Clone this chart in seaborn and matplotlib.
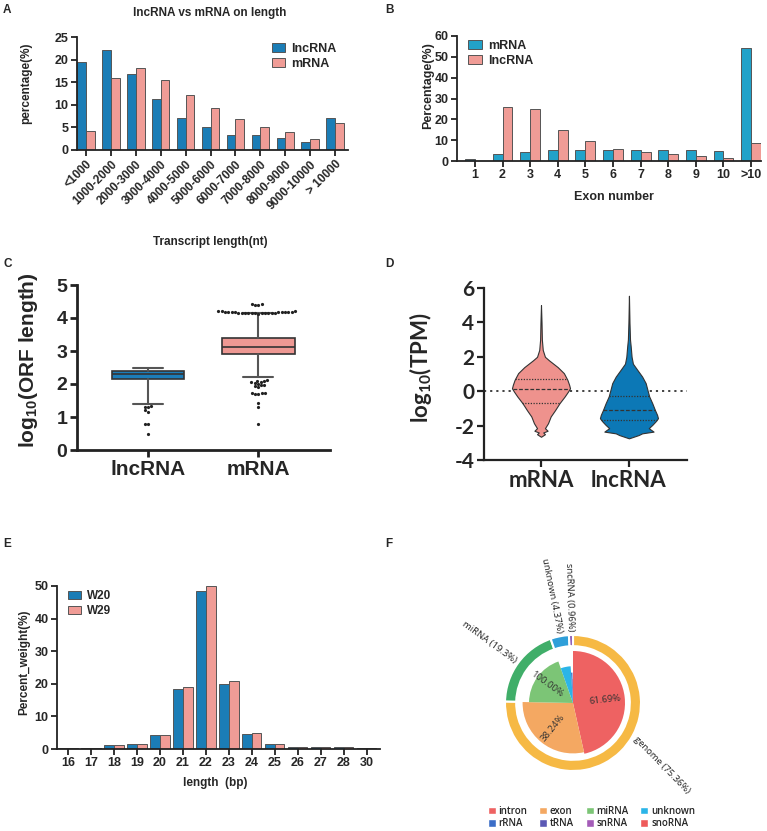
import numpy as np
import pandas as pd
import matplotlib.pyplot as plt
import seaborn as sns
from matplotlib.patches import Patch, Wedge

# A: transcript length distribution (%)
len_bins = ['<1000', '1000-2000', '2000-3000', '3000-4000', '4000-5000', '5000-6000',
            '6000-7000', '7000-8000', '8000-9000', '9000-10000', '> 10000']
len_lncrna = [19.5, 22.1, 16.9, 11.2, 7.0, 5.1, 3.4, 3.3, 2.6, 1.8, 7.0]
len_mrna = [4.2, 15.9, 18.2, 15.4, 12.1, 9.4, 6.8, 5.0, 3.9, 2.4, 6.0]

# B: exon number distribution (%)
exon_bins = ['1', '2', '3', '4', '5', '6', '7', '8', '9', '10', '>10']
exon_mrna = [1.0, 3.5, 4.5, 5.5, 5.5, 5.5, 5.5, 5.5, 5.5, 5.0, 54.0]
exon_lncrna = [0.0, 26.0, 25.0, 15.0, 9.5, 6.0, 4.2, 3.2, 2.3, 1.6, 8.5]

# C: log10 ORF length, box stats = whisker low, Q1, median, Q3, whisker high
orf_groups = ['lncRNA', 'mRNA']
orf_lnc_stats = [1.38, 2.15, 2.30, 2.40, 2.48]
orf_mrna_stats = [2.20, 2.90, 3.13, 3.38, 4.15]
orf_lnc_out = [1.32, 1.30, 1.30, 1.20, 1.15, 0.80, 0.80, 0.48]
orf_mrna_out = [4.42, 4.41, 4.40, 4.40,
                4.21, 4.20, 4.20, 4.19, 4.19, 4.18, 4.18, 4.18, 4.17, 4.17, 4.17, 4.17,
                4.16, 4.16, 4.16, 4.16, 4.15, 4.15, 4.15, 4.15, 4.14, 4.14, 4.14, 4.13,
                2.12, 2.10, 2.08, 2.06, 2.05, 2.03, 2.00, 1.98, 1.96, 1.93, 1.90,
                1.73, 1.72, 1.72, 1.71, 1.70, 1.42, 1.30, 0.78]

# D: log10 TPM violin outlines (level, half width)
tpm_groups = ['mRNA', 'lncRNA']
tpm_mrna_y = [5.0, 4.0, 3.0, 2.4, 2.0, 1.8, 1.4, 1.05, 0.66, 0.37, 0.17, 0.0, -0.3, -0.7,
              -1.1, -1.47, -1.86, -2.15, -2.3, -2.4, -2.5, -2.65]
tpm_mrna_w = [0.0, 0.006, 0.01, 0.02, 0.045, 0.09, 0.19, 0.26, 0.30, 0.32, 0.33, 0.31, 0.27, 0.21,
              0.16, 0.11, 0.08, 0.045, 0.075, 0.025, 0.045, 0.0]
tpm_lnc_y = [5.55, 4.0, 3.0, 2.6, 2.0, 1.6, 1.24, 0.85, 0.47, 0.08, -0.3, -0.7, -1.09, -1.38,
             -1.57, -1.77, -1.96, -2.15, -2.35, -2.45, -2.55, -2.74]
tpm_lnc_w = [0.0, 0.006, 0.012, 0.02, 0.03, 0.045, 0.095, 0.15, 0.19, 0.21, 0.23, 0.265, 0.295, 0.32,
             0.33, 0.30, 0.265, 0.225, 0.28, 0.15, 0.11, 0.0]
tpm_mrna_q = [-0.66, 0.10, 0.72]
tpm_lnc_q = [-1.67, -1.09, -0.27]

# E: small RNA length distribution (%)
srna_len = ['16', '17', '18', '19', '20', '21', '22', '23', '24', '25', '26', '27', '28', '30']
srna_w20 = [0.3, 0.4, 1.2, 1.4, 4.4, 18.3, 48.4, 20.0, 4.6, 1.4, 0.5, 0.5, 0.5, 0.3]
srna_w29 = [0.3, 0.4, 1.2, 1.4, 4.4, 18.9, 49.9, 20.8, 4.8, 1.4, 0.5, 0.5, 0.5, 0.3]

# F: small RNA annotation
outer_names = ['genome', 'miRNA', 'unknown', 'sncRNA']
outer_pct = [75.36, 19.3, 4.37, 0.96]
inner_names = ['intron', 'exon', 'miRNA', 'unknown', 'rRNA', 'tRNA', 'snRNA', 'snoRNA']
inner_share = [46.49, 28.82, 19.30, 4.37, 0.72, 0.12, 0.06, 0.06]
inner_label = ['61.69%', '38.24%', '100.00%', '', '', '', '', '']
inner_radius = [0.65, 0.63, 0.55, 0.46, 0.38, 0.30, 0.30, 0.30]

BLUE = '#1b7db6'
PINK = '#f09c96'

sns.set_style('ticks')
plt.rcParams['font.family'] = ['Liberation Sans', 'DejaVu Sans']
plt.rcParams['font.weight'] = 'bold'
plt.rcParams['axes.labelweight'] = 'bold'
plt.rcParams['mathtext.default'] = 'regular'
plt.rcParams['axes.unicode_minus'] = False

W, H = 767, 831
fig = plt.figure(figsize=(W / 100, H / 100), dpi=100)


def px_axes(x0, y0, x1, y1):
    return fig.add_axes([x0 / W, 1 - y1 / H, (x1 - x0) / W, (y1 - y0) / H])


def fig_xy(x, y):
    return x / W, 1 - y / H


def style_axis(ax, lw=1.3, size=8.5, length=4):
    sns.despine(ax=ax)
    for s in ['left', 'bottom']:
        ax.spines[s].set_linewidth(lw)
        ax.spines[s].set_color('#222222')
    ax.tick_params(width=lw, length=length, color='#222222', labelsize=size, pad=2)


# panel letters
for lab, (x, y) in zip('ABCDEF', [(3, 10), (385, 10), (3, 264), (385, 264), (3, 544), (385, 544)]):
    fig.text(*fig_xy(x, y), lab, fontsize=8.5, fontweight='bold', va='center')

# ---- A ----
ax = px_axes(77, 37, 348, 150)
df_a = pd.DataFrame({'bin': len_bins * 2, 'pct': len_lncrna + len_mrna,
                     'type': ['lncRNA'] * len(len_bins) + ['mRNA'] * len(len_bins)})
sns.barplot(data=df_a, x='bin', y='pct', hue='type', palette=[BLUE, PINK], saturation=1,
            width=0.7, gap=0, edgecolor='#555555', linewidth=0.7, ax=ax)
ax.set_xlim(-0.36, 10.52)
ax.set_ylim(0, 25)
ax.set_yticks(range(0, 26, 5))
style_axis(ax, size=9)
plt.setp(ax.get_xticklabels(), rotation=45, ha='right', rotation_mode='anchor', fontsize=8.5)
ax.set_xlabel('')
ax.set_ylabel('percentage(%)', fontsize=8.5)
ax.yaxis.set_label_coords(*fig_xy(32, 83), transform=fig.transFigure)
fig.text(*fig_xy(210, 242), 'Transcript length(nt)', ha='center', va='center', fontsize=8.5)
fig.text(*fig_xy(210, 13), 'lncRNA vs mRNA on length', ha='center', va='center', fontsize=8.5)
ax.legend(loc='upper right', bbox_to_anchor=(1.0, 1.05), frameon=False, fontsize=9,
          handlelength=1.1, handleheight=0.75, handletextpad=0.5, labelspacing=0.25)

# ---- B ----
ax = px_axes(457, 36, 761, 161)
df_b = pd.DataFrame({'bin': exon_bins * 2, 'pct': exon_mrna + exon_lncrna,
                     'type': ['mRNA'] * len(exon_bins) + ['lncRNA'] * len(exon_bins)})
sns.barplot(data=df_b, x='bin', y='pct', hue='type', palette=['#22a2c9', PINK], saturation=1,
            width=0.72, gap=0, edgecolor='#555555', linewidth=0.7, ax=ax)
ax.set_xlim(-0.65, 10.36)
ax.set_ylim(0, 60)
ax.set_yticks(range(0, 61, 10))
style_axis(ax, size=9)
ax.set_xlabel('Exon number', fontsize=9)
ax.xaxis.set_label_coords(*fig_xy(614, 191), transform=fig.transFigure)
ax.set_ylabel('Percentage(%)', fontsize=9)
ax.yaxis.set_label_coords(*fig_xy(434, 86), transform=fig.transFigure)
ax.legend(loc='upper left', bbox_to_anchor=(0.0, 1.06), frameon=False, fontsize=9,
          handlelength=1.1, handleheight=0.75, handletextpad=0.5, labelspacing=0.25)

# ---- C ----
ax = px_axes(77, 285, 330, 450)
df_c = pd.DataFrame({'group': ['lncRNA'] * len(orf_lnc_out) + ['mRNA'] * len(orf_mrna_out),
                     'val': orf_lnc_out + orf_mrna_out})
sns.swarmplot(data=df_c, x='group', y='val', order=orf_groups, color='#222222', size=2.3, ax=ax)
stats = []
for name, s in zip(orf_groups, [orf_lnc_stats, orf_mrna_stats]):
    stats.append(dict(label=name, whislo=s[0], q1=s[1], med=s[2], q3=s[3], whishi=s[4], fliers=[]))
bp = ax.bxp(stats, positions=[0, 1], widths=0.66, capwidths=0.27, patch_artist=True,
            showfliers=False, manage_ticks=False,
            boxprops=dict(edgecolor='#333333', linewidth=1.2),
            medianprops=dict(color='#333333', linewidth=1.2),
            whiskerprops=dict(color='#555555', linewidth=1.5),
            capprops=dict(color='#555555', linewidth=1.5))
for patch, c in zip(bp['boxes'], ['#1c7db8', '#ee9893']):
    patch.set_facecolor(c)
ax.set_xlim(-0.645, 1.65)
ax.set_ylim(0, 5)
ax.set_yticks(range(0, 6))
style_axis(ax, lw=2, size=14, length=5)
ax.set_xticks([0, 1])
ax.set_xticklabels(orf_groups, fontsize=15)
ax.set_xlabel('')
ax.set_ylabel('log$_{10}$(ORF length)', fontsize=15)
ax.yaxis.set_label_coords(*fig_xy(40, 360), transform=fig.transFigure)

# ---- D ----
ax = px_axes(484, 288, 687, 460)
dfont = ['Lato', 'DejaVu Sans']
ax.axhline(0, color='#333333', linestyle=(0, (1.2, 2.2)), linewidth=1.3, zorder=1)
for i, (ys, ws, qs, c) in enumerate([(tpm_mrna_y, tpm_mrna_w, tpm_mrna_q, '#ee928d'),
                                     (tpm_lnc_y, tpm_lnc_w, tpm_lnc_q, '#0c78b6')]):
    ys = np.array(ys)
    ws = np.array(ws)
    ax.fill_betweenx(ys, i - ws, i + ws, facecolor=c, edgecolor='#333333', linewidth=0.8, zorder=2)
    for k, q in enumerate(qs):
        hw = np.interp(q, ys[::-1], ws[::-1])
        ls = (0, (3, 1.5)) if k == 1 else (0, (1, 1.2))
        ax.plot([i - hw, i + hw], [q, q], color='#333333', linestyle=ls, linewidth=0.9, zorder=3)
ax.set_xlim(-0.648, 1.66)
ax.set_ylim(-4, 6)
ax.set_yticks(range(-4, 7, 2))
ax.set_xticks([0, 1])
ax.set_xticklabels(tpm_groups)
style_axis(ax, lw=1.6, size=15, length=5)
for t in ax.get_xticklabels() + ax.get_yticklabels():
    t.set_family(dfont)
    t.set_fontsize(16 if t in ax.get_xticklabels() else 15)
ax.set_ylabel('log$_{10}$(TPM)', fontsize=16, family=dfont)
ax.yaxis.set_label_coords(*fig_xy(434, 368), transform=fig.transFigure)

# ---- E ----
ax = px_axes(57, 586, 380, 749)
df_e = pd.DataFrame({'len': srna_len * 2, 'pct': srna_w20 + srna_w29,
                     'sample': ['W20'] * len(srna_len) + ['W29'] * len(srna_len)})
sns.barplot(data=df_e, x='len', y='pct', hue='sample', palette=[BLUE, PINK], saturation=1,
            width=0.83, gap=0, edgecolor='#555555', linewidth=0.7, ax=ax)
ax.set_xlim(-0.48, 13.57)
ax.set_ylim(0, 50)
ax.set_yticks(range(0, 51, 10))
style_axis(ax, size=9)
ax.set_xlabel('length  (bp)', fontsize=8.5)
ax.xaxis.set_label_coords(*fig_xy(215, 777), transform=fig.transFigure)
ax.set_ylabel('Percent_weight(%)', fontsize=8.5)
ax.yaxis.set_label_coords(*fig_xy(30, 662), transform=fig.transFigure)
ax.legend(loc='upper left', bbox_to_anchor=(0.0, 1.04), frameon=False, fontsize=8.5,
          handlelength=1.1, handleheight=0.75, handletextpad=0.5, labelspacing=0.25)

# ---- F ----
ax = px_axes(473, 603, 673, 803)
ax.set_xlim(-1, 1)
ax.set_ylim(-1, 1)
ax.set_aspect('equal')
ax.axis('off')
ffont = ['Open Sans', 'DejaVu Sans']
outer_colors = ['#f6b944', '#40ae69', '#2f9fd9', '#8e5cb6']
inner_colors = ['#ee6262', '#f4a862', '#7cc576', '#2bb5e8', '#3b6dc7', '#5b59b5', '#a45cb8', '#ee5a5a']
ax.pie(outer_pct, radius=0.85, startangle=90, counterclock=False, colors=outer_colors,
       wedgeprops=dict(width=0.14, edgecolor='white', linewidth=1.5))
# the genome label sits a bit further round than its wedge middle, clear of the legend
label_nudge = {'genome': 16}
cum = np.cumsum([0] + outer_pct)
for name, p, a0 in zip(outer_names, outer_pct, cum[:-1]):
    mid = 90 - (a0 + p / 2) * 3.6
    at = np.radians(mid + label_nudge.get(name, 0))
    x, y = 0.89 * np.cos(at), 0.89 * np.sin(at)
    if np.cos(np.radians(mid)) >= 0:
        rot, ha = mid, 'left'
    else:
        rot, ha = mid - 180, 'right'
    ax.text(x, y, f'{name} ({p}%)', rotation=rot, ha=ha, va='center', rotation_mode='anchor',
            fontsize=6.8, fontweight='normal', family=ffont, color='#222222', clip_on=False)
cum = np.cumsum([0] + inner_share)
for p, a0, r, c, lab in zip(inner_share, cum[:-1], inner_radius, inner_colors, inner_label):
    t1 = 90 - (a0 + p) * 3.6
    t2 = 90 - a0 * 3.6
    ax.add_patch(Wedge((0, 0), r, t1, t2, facecolor=c, edgecolor='none'))
    if lab:
        mid = (t1 + t2) / 2
        rot = mid if np.cos(np.radians(mid)) >= 0 else mid - 180
        ax.text(0.4 * np.cos(np.radians(mid)), 0.4 * np.sin(np.radians(mid)), lab,
                rotation=rot, ha='center', va='center', rotation_mode='anchor',
                fontsize=6.8, fontweight='normal', family=ffont, color='#333333')
# legend fills column by column, so interleave the two rows
handles = [Patch(facecolor=c, label=n) for n, c in zip(inner_names, inner_colors)]
handles = [h for pair in zip(handles[:4], handles[4:]) for h in pair]
fig.legend(handles=handles, ncol=4, loc='upper left', bbox_to_anchor=fig_xy(488, 806),
           frameon=False, prop=dict(family=ffont, size=7, weight='semibold'),
           handlelength=0.8, handleheight=0.8, handletextpad=0.3, columnspacing=1.2,
           labelspacing=0.15, borderpad=0, borderaxespad=0)

fig.savefig('out.png', dpi=100)
